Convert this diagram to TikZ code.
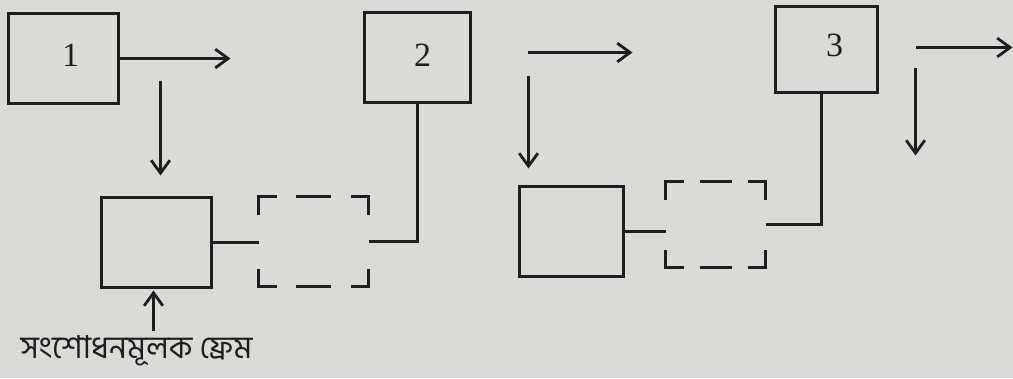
\documentclass[tikz,border=0pt]{standalone}
\usepackage{fontspec}
\setmainfont{Liberation Serif}
\newfontfamily\bnfont[Script=Bengali]{Hind Siliguri}
\usetikzlibrary{arrows.meta,calc}
\definecolor{paper}{RGB}{218,218,215}
\definecolor{ink}{RGB}{30,30,30}
\tikzset{ln/.style={draw=ink,line width=2.4pt}}
\newcommand\bracketbox[1]{%
  \draw[ln] (#1.north west) ++(0,18) |- ++(18,-18);
  \draw[ln] (#1.north east) ++(-18,0) -| ++(18,18);
  \draw[ln] (#1.south west) ++(0,-18) |- ++(18,18);
  \draw[ln] (#1.south east) ++(-18,0) -| ++(18,-18);
  \draw[ln] ($(#1.north west)!0.34!(#1.north east)$) -- ($(#1.north west)!0.66!(#1.north east)$);
  \draw[ln] ($(#1.south west)!0.34!(#1.south east)$) -- ($(#1.south west)!0.66!(#1.south east)$);
}
\begin{document}
\begin{tikzpicture}[x=0.03cm,y=-0.03cm,
  box/.style={ln,rectangle,outer sep=0pt,inner sep=0pt},
  gap/.style={rectangle,outer sep=0pt,inner sep=0pt},
  num/.style={font=\fontsize{29}{31}\selectfont,text=ink},
  arr/.style={ln,-{Straight Barb[length=11pt,width=16pt,line width=2.4pt]}},
  conn/.style={ln}]
\fill[paper] (0,0) rectangle (1013,378);
\useasboundingbox (0,0) rectangle (1013,378);

\begin{scope}[shift={(0.5,0.5)}]
% boxes
\node[box,minimum width=3.3cm,minimum height=2.7cm] (b1) at (63,58) {};
\node[num] (t1) at (70,55) {1};
\node[box,minimum width=3.3cm,minimum height=2.7cm] (bA) at (156,242) {};
\node[gap,minimum width=3.3cm,minimum height=2.7cm] (d1) at (313,241) {};
\node[box,minimum width=3.18cm,minimum height=2.7cm] (b2) at (417,57) {};
\node[num] (t2) at (422,55) {2};
\node[box,minimum width=3.12cm,minimum height=2.7cm] (bB) at (571,231) {};
\node[gap,minimum width=3.0cm,minimum height=2.58cm] (d2) at (715,224) {};
\node[box,minimum width=3.06cm,minimum height=2.58cm] (b3) at (826,49) {};
\node[num] (t3) at (834,45) {3};

\bracketbox{d1}
\bracketbox{d2}

% connectors
\draw[conn] (bA.east) -- (bA.east -| d1.west);
\draw[conn] (d1.east) -| (b2.south);
\draw[conn] (bB.east) -- (bB.east -| d2.west);
\draw[conn] (d2.east) -| ([xshift=-0.15cm]b3.south);

% arrows
\coordinate (r1) at (230,58);
\coordinate (s1) at (160,80);
\coordinate (e1) at (160,175);
\draw[arr] (b1.east) -- (r1);
\draw[arr] (s1) -- (e1);

\coordinate (s2) at (527,52);
\coordinate (r2) at (632,52);
\coordinate (s2d) at (528,75);
\coordinate (e2d) at (528,168);
\draw[arr] (s2) -- (r2);
\draw[arr] (s2d) -- (e2d);

\coordinate (s3) at (915,47);
\coordinate (r3) at (1012,47);
\coordinate (s3d) at (915,67);
\coordinate (e3d) at (915,155);
\draw[arr] (s3) -- (r3);
\draw[arr] (s3d) -- (e3d);

% label
\node[text=ink,font=\bnfont\fontsize{27}{29}\selectfont,anchor=center] (lab) at (136,350) {সংশোধনমূলক ফ্রেম};
\coordinate (up) at (153,290);
\coordinate (ls) at (153,330);
\draw[arr] (ls) -- (up);
\end{scope}
\end{tikzpicture}
\end{document}
